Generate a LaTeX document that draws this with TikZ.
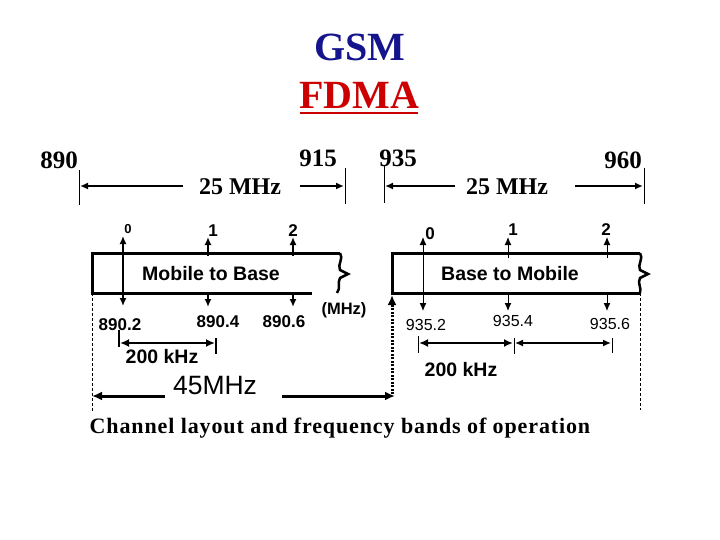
\documentclass[tikz,border=0pt]{standalone}
\usepackage{fontspec}
\setmainfont{Liberation Serif}
\setsansfont{Liberation Sans}
\usetikzlibrary{arrows.meta}
\definecolor{gsmblue}{RGB}{20,20,140}
\definecolor{fdmared}{RGB}{204,0,0}
\begin{document}
\begin{tikzpicture}[x=1pt,y=-1pt,
  boxline/.style={line width=3pt},
  thinline/.style={line width=1pt},
  tip/.style={-{Latex[length=8pt,width=7pt]}},
  tipL/.style={-{Latex[length=10pt,width=9pt]}},
  dtip/.style={{Latex[length=8pt,width=7pt]}-{Latex[length=8pt,width=7pt]}},
  dtipL/.style={{Latex[length=9pt,width=8pt]}-{Latex[length=9pt,width=8pt]}},
  serifnum/.style={font=\fontsize{25}{28}\selectfont\bfseries},
  seriflbl/.style={font=\fontsize{24}{28}\selectfont\bfseries},
  chnum/.style={font=\fontsize{17}{20}\selectfont\sffamily\bfseries},
  freqb/.style={font=\fontsize{17}{20}\selectfont\sffamily\bfseries},
  freqr/.style={font=\fontsize{16}{19}\selectfont\sffamily},
  boxlbl/.style={font=\fontsize{19.5}{22}\selectfont\sffamily\bfseries},
  khz/.style={font=\fontsize{19.5}{22}\selectfont\sffamily\bfseries},
  inner sep=0pt]
\useasboundingbox (0,0) rectangle (720,540);

% Title
\node[font=\fontsize{40}{46}\selectfont\bfseries, text=gsmblue] (gsm) at (360,47) {GSM};
\node[font=\fontsize{40}{46}\selectfont\bfseries, text=fdmared] (fdma) at (359,95) {FDMA};
\coordinate (ul1) at (300,113);
\coordinate (ul2) at (418,113);
\draw[fdmared, line width=2pt] (ul1) -- (ul2);

% Top band labels
\node[serifnum] (n890) at (59,160) {890};
\node[serifnum] (n915) at (318,158) {915};
\node[serifnum] (n935) at (398,158) {935};
\node[serifnum] (n960) at (623,160) {960};
\node[seriflbl] (bw1) at (240,187) {25 MHz};
\node[seriflbl] (bw2) at (507,187) {25 MHz};

\coordinate (t1a) at (79,170);  \coordinate (t1b) at (79,205);
\coordinate (t2a) at (345,168); \coordinate (t2b) at (345,204);
\coordinate (t3a) at (384,165); \coordinate (t3b) at (384,203);
\coordinate (t4a) at (644,168); \coordinate (t4b) at (644,204);
\draw[thinline] (t1a) -- (t1b);
\draw[thinline] (t2a) -- (t2b);
\draw[thinline] (t3a) -- (t3b);
\draw[thinline] (t4a) -- (t4b);
\coordinate (a1s) at (183,186); \coordinate (a1e) at (80,186);
\coordinate (a2s) at (300,186); \coordinate (a2e) at (344,186);
\coordinate (a3s) at (455,186); \coordinate (a3e) at (385,186);
\coordinate (a4s) at (575,186); \coordinate (a4e) at (643,186);
\draw[tip, line width=2pt] (a1s) -- (a1e);
\draw[tip, line width=2pt] (a2s) -- (a2e);
\draw[tip, line width=2pt] (a3s) -- (a3e);
\draw[tip, line width=2pt] (a4s) -- (a4e);

% Channel numbers
\node[chnum, font=\fontsize{13}{15}\selectfont\sffamily\bfseries] (c0l) at (128,229) {0};
\node[chnum] (c1l) at (213,231) {1};
\node[chnum] (c2l) at (293,231) {2};
\node[chnum] (c0r) at (430,234) {0};
\node[chnum] (c1r) at (513,230) {1};
\node[chnum] (c2r) at (606,230) {2};

% Mobile to Base box
\coordinate (mbtl) at (92,253);
\coordinate (mbtr) at (340,253);
\coordinate (mbbl) at (92,293);
\coordinate (mbbr) at (312,293);
\draw[boxline] (mbtr) -- (mbtl) -- (mbbl) -- (mbbr);
\draw[line width=2.5pt] (mbtr) .. controls (344,258) and (337,265) .. (340,270) -- (348,274) -- (340,278) .. controls (337,283) and (341,288) .. (337,293);
\node[boxlbl] (m2b) at (211,274) {Mobile to Base};

% Base to Mobile box
\coordinate (bmtl) at (392,253);
\coordinate (bmtr) at (640,253);
\coordinate (bmbl) at (392,293);
\coordinate (bmbr) at (640,293);
\draw[boxline] (bmtr) -- (bmtl) -- (bmbl) -- (bmbr);
\draw[line width=2.5pt] (bmtr) .. controls (644,258) and (637,265) .. (640,270) -- (648,274) -- (640,278) .. controls (637,283) and (642,288) .. (bmbr);
\node[boxlbl] (b2m) at (510,274) {Base to Mobile};

% Channel arrows, Mobile to Base
\coordinate (m0a) at (123,236); \coordinate (m0b) at (123,306);
\draw[dtip, line width=1.5pt] (m0a) -- (m0b);
\coordinate (m1a) at (208,256); \coordinate (m1b) at (208,237);
\coordinate (m1c) at (208,293); \coordinate (m1d) at (208,307);
\draw[tip, line width=2.5pt] (m1a) -- (m1b);
\draw[tip, line width=2.5pt] (m1c) -- (m1d);
\coordinate (m2a) at (293,256); \coordinate (m2b) at (293,237);
\coordinate (m2c) at (293,293); \coordinate (m2d) at (293,307);
\draw[tip, line width=2.5pt] (m2a) -- (m2b);
\draw[tip, line width=2.5pt] (m2c) -- (m2d);

% Channel arrows, Base to Mobile
\coordinate (b0a) at (423,237); \coordinate (b0b) at (423,311);
\draw[dtip, line width=1pt] (b0a) -- (b0b);
\coordinate (b1a) at (508,258); \coordinate (b1b) at (508,237);
\coordinate (b1c) at (508,293); \coordinate (b1d) at (508,311);
\draw[tip, line width=1pt] (b1a) -- (b1b);
\draw[tip, line width=1pt] (b1c) -- (b1d);
\coordinate (b2a) at (607,258); \coordinate (b2b) at (607,237);
\coordinate (b2c) at (607,293); \coordinate (b2d) at (607,311);
\draw[tip, line width=1pt] (b2a) -- (b2b);
\draw[tip, line width=1pt] (b2c) -- (b2d);

% Frequencies
\node[freqb] (f1) at (120,325) {890.2};
\node[freqb] (f2) at (218,322) {890.4};
\node[freqb] (f3) at (284,322) {890.6};
\node[freqb, font=\fontsize{16.5}{19}\selectfont\sffamily\bfseries] (mhz) at (344,310) {(MHz)};
\node[freqr] (g1) at (426,325) {935.2};
\node[freqr] (g2) at (513,321) {935.4};
\node[freqr] (g3) at (610,324) {935.6};

% 200 kHz left
\coordinate (k1a) at (119,330); \coordinate (k1b) at (119,347);
\coordinate (k2a) at (216,338); \coordinate (k2b) at (216,354);
\draw[line width=2pt] (k1a) -- (k1b);
\draw[line width=1.5pt] (k2a) -- (k2b);
\coordinate (k1m) at (119,343); \coordinate (k2m) at (216,343);
\draw[dtipL, line width=2.5pt, shorten <=1pt, shorten >=1pt] (k1m) -- (k2m);
\node[khz] (khz1) at (162,357) {200 kHz};

% 200 kHz right
\coordinate (r1a) at (418,336); \coordinate (r1b) at (418,353);
\coordinate (r2a) at (514,338); \coordinate (r2b) at (514,354);
\coordinate (r3a) at (612,338); \coordinate (r3b) at (612,353);
\draw[thinline] (r1a) -- (r1b);
\draw[thinline] (r2a) -- (r2b);
\draw[thinline] (r3a) -- (r3b);
\coordinate (r1m) at (418,343); \coordinate (r2m) at (514,343); \coordinate (r3m) at (612,343);
\draw[dtipL, line width=2.5pt, shorten <=1pt, shorten >=1pt] (r1m) -- (r2m);
\draw[dtip, line width=1.5pt, shorten <=1pt, shorten >=1pt] (r2m) -- (r3m);
\node[khz] (khz2) at (461,370) {200 kHz};

% 45 MHz separation
\coordinate (d1) at (92,412);
\coordinate (d2) at (640,410);
\draw[thinline, dash pattern=on 3pt off 2pt] (mbbl) -- (d1);
\draw[thinline, dash pattern=on 3pt off 2pt] (bmbr) -- (d2);
\node[font=\fontsize{26.5}{30}\selectfont\sffamily] (sep) at (215,386) {45MHz};
\coordinate (s1) at (165,396); \coordinate (s1e) at (92,396);
\coordinate (s2) at (282,396); \coordinate (s2e) at (395,396);
\coordinate (s3) at (392,394); \coordinate (s3e) at (392,295);
\draw[tipL, line width=3pt] (s1) -- (s1e);
\draw[tipL, line width=3pt] (s2) -- (s2e);
\draw[tipL, line width=3pt, dash pattern=on 2pt off 1.5pt] (s3) -- (s3e);

% Caption
\node[font=\fontsize{22}{26}\selectfont\bfseries\addfontfeatures{LetterSpace=4}] (cap) at (340,428) {Channel layout and frequency bands of operation};
\end{tikzpicture}
\end{document}
